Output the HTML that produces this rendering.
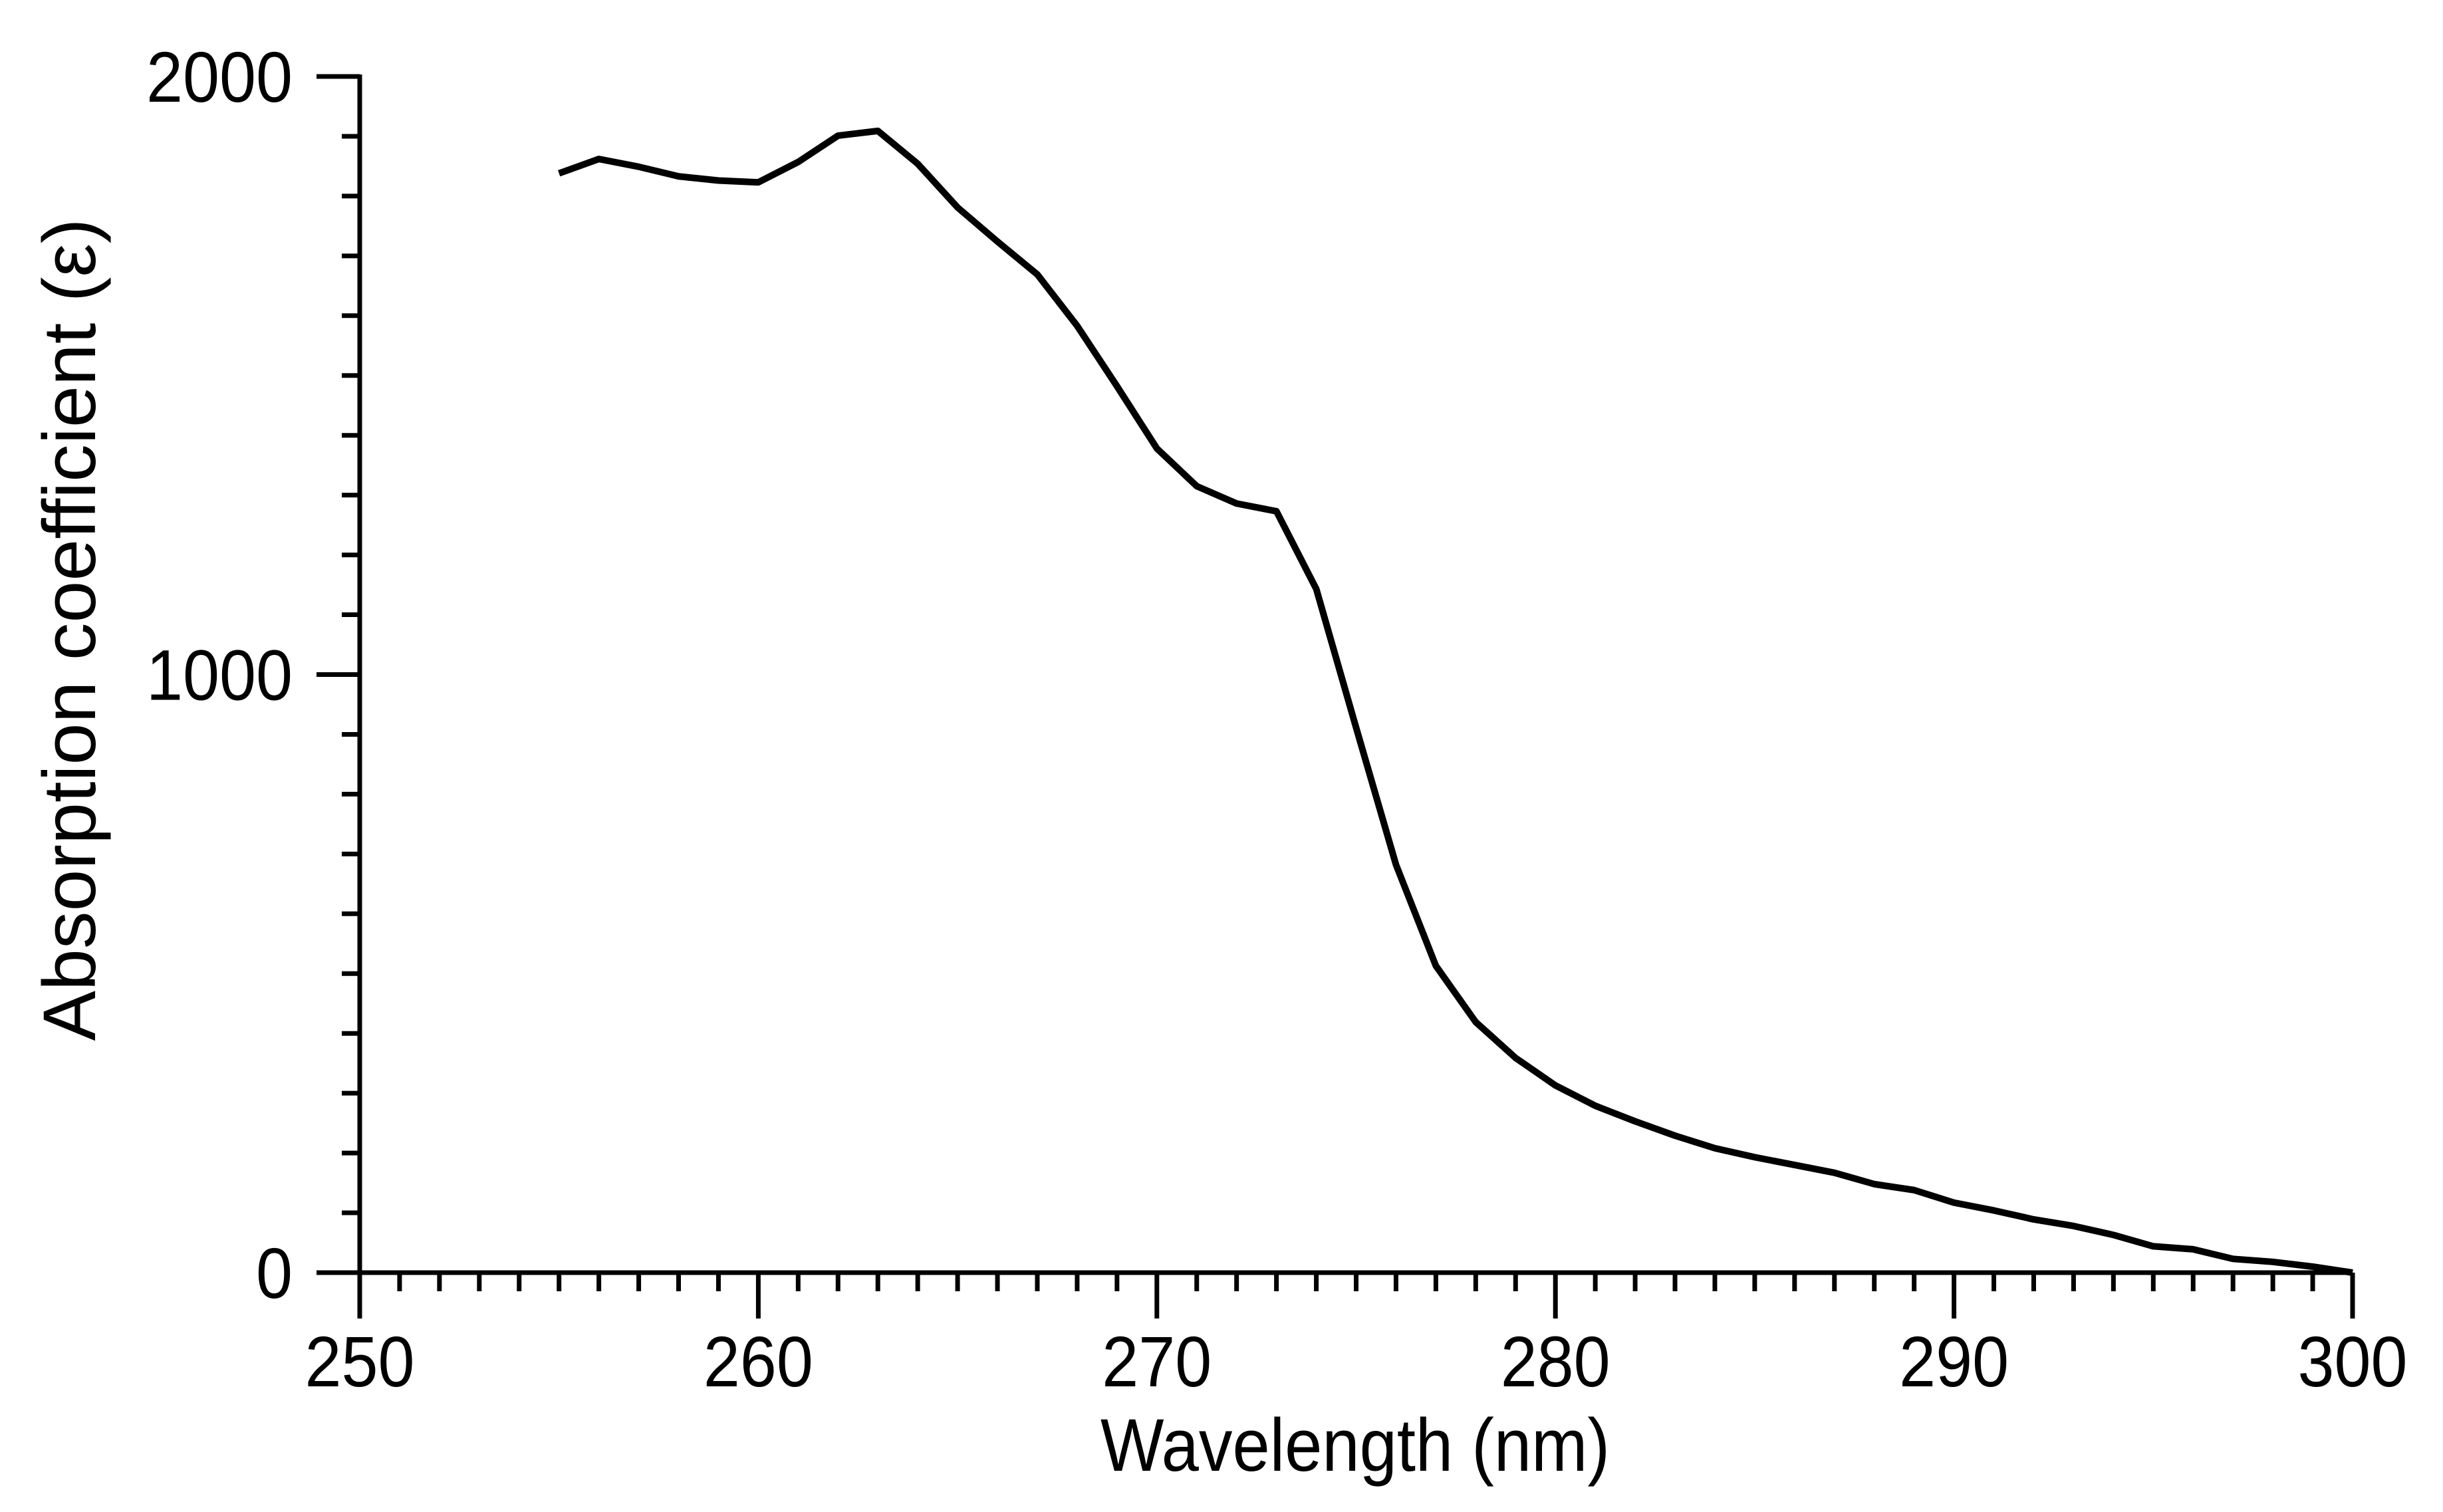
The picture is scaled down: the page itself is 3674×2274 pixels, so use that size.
<!DOCTYPE html>
<html><head><meta charset="utf-8"><style>
html,body{margin:0;padding:0;background:#fff;}
svg{display:block;font-family:"Liberation Sans",Arial,sans-serif;}
</style></head><body>
<svg id="chart" width="3674" height="2274" viewBox="0 0 3674 2274">
<g id="axes"></g>
<polyline id="curve" fill="none" stroke="#000" stroke-width="10" stroke-linejoin="round"/>
<text x="2038" y="2212" font-size="112" text-anchor="middle" textLength="766" lengthAdjust="spacingAndGlyphs">Wavelength (nm)</text>
<text transform="translate(143,947) rotate(-90)" font-size="112" text-anchor="middle" textLength="1237" lengthAdjust="spacingAndGlyphs">Absorption coefficient (ε)</text>
</svg>
<script>
const wavelengths=[255,256,257,258,259,260,261,262,263,264,265,266,267,268,269,270,271,272,273,274,275,276,277,278,279,280,281,282,283,284,285,286,287,288,289,290,291,292,293,294,295,296,297,298,299,300];
const epsilon=[1838,1862,1849,1833,1826,1823,1857,1901,1909,1854,1781,1724,1669,1583,1482,1378,1315,1286,1273,1143,911,682,513,419,359,313,279,253,229,208,193,180,167,148,138,117,104,89,78,63,44,39,23,18,10,0];
const xTickLabels=[250,260,270,280,290,300];
const yTickLabels=[0,1000,2000];
const X0=541,X1=3538,Y0=1914,Y1=115;
function sx(v){return X0+(v-250)/50*(X1-X0);}
function sy(v){return Y0-(v/2000)*(Y0-Y1);}
const NS="http://www.w3.org/2000/svg";
const axes=document.getElementById('axes');
function line(x1,y1,x2,y2,name){const l=document.createElementNS(NS,'line');
l.setAttribute('x1',x1);l.setAttribute('y1',y1);l.setAttribute('x2',x2);l.setAttribute('y2',y2);
l.setAttribute('stroke','#000');l.setAttribute('stroke-width','7');


axes.appendChild(l);}
function text(x,y,s,anchor,name){const t=document.createElementNS(NS,'text');
t.setAttribute('x',x);t.setAttribute('y',y);t.setAttribute('font-size','108');t.setAttribute('text-anchor',anchor);
t.setAttribute('textLength',String(s.length*55));t.setAttribute('lengthAdjust','spacingAndGlyphs');t.textContent=s;


axes.appendChild(t);}
line(X0,Y1-3,X0,Y0+3,'y-axis-line');
line(X0,Y0,X1,Y0,'x-axis-line');
for(let v=250;v<=300;v++){const major=v%10===0;line(sx(v),Y0,sx(v),Y0+(major?69:28),major?'x-major-tick':'x-minor-tick');}
for(let v=0;v<=2000;v+=100){const major=v%1000===0;line(X0,sy(v),X0-(major?65:27),sy(v),major?'y-major-tick':'y-minor-tick');}
xTickLabels.forEach(v=>text(sx(v),2085,String(v),'middle','x-tick-label'));
yTickLabels.forEach(v=>text(440,sy(v)+38,String(v),'end','y-tick-label'));
document.getElementById('curve').setAttribute('points',wavelengths.map((w,i)=>sx(w)+','+sy(epsilon[i])).join(' '));
</script>
</body></html>
